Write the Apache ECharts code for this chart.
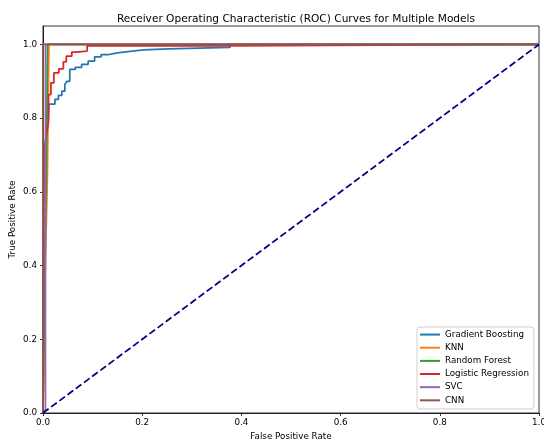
<!DOCTYPE html>
<html>
<head>
<meta charset="utf-8">
<script src="https://cdn.jsdelivr.net/npm/echarts@6/dist/echarts.min.js"></script>
<style>html,body{margin:0;padding:0;background:#fff}#c{width:544px;height:441px}</style>
</head>
<body>
<div id="c"></div>
<script>
var titleText = 'Receiver Operating Characteristic (ROC) Curves for Multiple Models';
var xAxisName = 'False Positive Rate';
var yAxisName = 'True Positive Rate';
var tickValues = [0, 0.2, 0.4, 0.6, 0.8, 1.0];

var seriesNames = ['Gradient Boosting', 'KNN', 'Random Forest', 'Logistic Regression', 'SVC', 'CNN'];
var seriesColors = ['#1f77b4', '#ff7f0e', '#2ca02c', '#d62728', '#9467bd', '#8c564b'];

var gbRoc = [[0,0],[0.002,0.7],[0.011,0.8],[0.012,0.838],[0.024,0.838],[0.024,0.851],[0.031,0.851],[0.031,0.862],[0.038,0.862],[0.038,0.873],[0.044,0.873],[0.044,0.891],[0.048,0.891],[0.048,0.9],[0.054,0.9],[0.054,0.932],[0.065,0.932],[0.065,0.938],[0.078,0.938],[0.078,0.946],[0.091,0.946],[0.091,0.955],[0.104,0.955],[0.104,0.966],[0.117,0.966],[0.117,0.972],[0.13,0.972],[0.13,0.977],[0.15,0.977],[0.15,0.981],[0.176,0.981],[0.176,0.985],[0.202,0.985],[0.202,0.988],[0.253,0.988],[0.253,0.992],[0.377,0.992],[0.377,1.0],[1,1]];
var knnRoc = [[0,0],[0.002,0.1],[0.004,0.36],[0.009,0.65],[0.012,1.0],[1,1]];
var rfRoc = [[0,0],[0.004,0.4],[0.007,0.66],[0.009,1.0],[1,1]];
var lrRoc = [[0,0],[0.002,0.715],[0.011,0.788],[0.011,0.864],[0.016,0.864],[0.016,0.896],[0.022,0.896],[0.022,0.923],[0.032,0.923],[0.032,0.934],[0.041,0.934],[0.041,0.953],[0.047,0.953],[0.047,0.968],[0.058,0.968],[0.058,0.979],[0.066,0.979],[0.066,0.982],[0.089,0.982],[0.089,0.996],[0.37,0.996],[0.37,1.0],[1,1]];
var svcRoc = [[0,0],[0.005,0.01],[0.005,1.0],[1,1]];
var cnnRoc = [[0,0],[0,1.0],[1,1]];
var chanceLine = [[0,0],[1,1]];

var rocData = [gbRoc, knnRoc, rfRoc, lrRoc, svcRoc, cnnRoc];

var FONT = 'DejaVu Sans';
var series = seriesNames.map(function (name, i) {
  return {
    name: name, type: 'line', data: rocData[i], symbol: 'none', showSymbol: false,
    lineStyle: { color: seriesColors[i], width: 1.75 }, itemStyle: { color: seriesColors[i] },
    animation: false, clip: true
  };
});
series.push({
  name: 'chance', type: 'line', data: chanceLine, symbol: 'none',
  lineStyle: { color: '#000080', width: 1.75, type: [7, 3.2] }, animation: false
});

var chart = echarts.init(document.getElementById('c'), null, { renderer: 'canvas' });
chart.setOption({
  backgroundColor: '#fff',
  animation: false,
  title: {
    text: titleText, left: 291, top: 9, textAlign: 'center',
    textStyle: { fontFamily: FONT, fontSize: 10.6, fontWeight: 'normal', color: '#000' }
  },
  grid: { left: 43, right: 5, top: 26, bottom: 28, show: true, borderColor: '#000', borderWidth: 0.8,
    containLabel: false, outerBoundsMode: 'none' },
  legend: {
    data: seriesNames, orient: 'vertical', left: 417, top: 327,
    backgroundColor: '#fff', borderColor: '#d0d0d0', borderWidth: 1, borderRadius: 3,
    padding: [1, 5, 2, 3], itemWidth: 20, itemHeight: 2, itemGap: 0, itemTextGap: 6, icon: 'rect',
    textStyle: { fontFamily: FONT, fontSize: 8.75, color: '#000', lineHeight: 13.15 }
  },
  xAxis: {
    type: 'value', min: 0, max: 1, interval: 0.2,
    name: xAxisName, nameLocation: 'middle', nameGap: 19, nameMoveOverlap: false,
    nameTextStyle: { fontFamily: FONT, fontSize: 8.75, color: '#000' },
    axisLine: { show: true, onZero: false, lineStyle: { color: '#000', width: 0.8 } },
    axisTick: { show: true, length: 3, lineStyle: { color: '#000', width: 0.8 }, customValues: tickValues },
    axisLabel: { fontFamily: FONT, fontSize: 8.75, color: '#000', margin: 5, customValues: tickValues,
      formatter: function (v) { return v.toFixed(1); } },
    splitLine: { show: false }
  },
  yAxis: {
    type: 'value', min: 0, max: 1.05, interval: 0.2,
    name: yAxisName, nameLocation: 'middle', nameGap: 26, nameRotate: 90, nameMoveOverlap: false,
    nameTextStyle: { fontFamily: FONT, fontSize: 8.75, color: '#000' },
    axisLine: { show: true, onZero: false, lineStyle: { color: '#000', width: 0.8 } },
    axisTick: { show: true, length: 3, lineStyle: { color: '#000', width: 0.8 }, customValues: tickValues },
    axisLabel: { fontFamily: FONT, fontSize: 8.75, color: '#000', margin: 6, customValues: tickValues,
      formatter: function (v) { return v.toFixed(1); } },
    splitLine: { show: false }
  },
  series: series
});
</script>
</body>
</html>
